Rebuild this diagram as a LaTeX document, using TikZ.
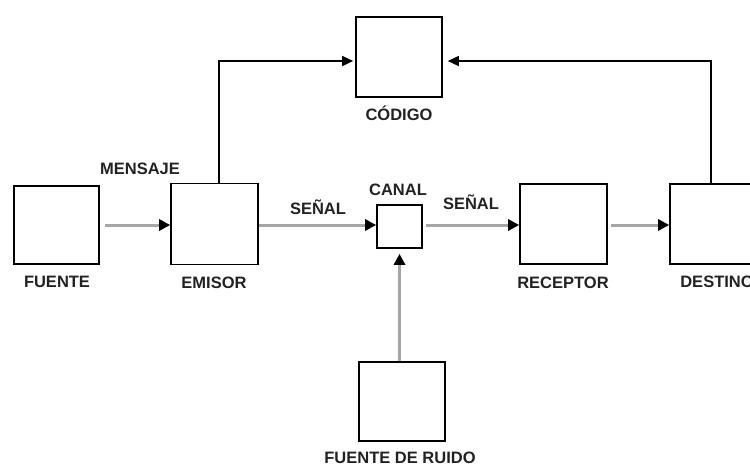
\documentclass[tikz,border=0pt]{standalone}
\usepackage{fontspec}
\setmainfont{Liberation Sans}
\usetikzlibrary{arrows.meta}
\definecolor{grayline}{HTML}{A6A6A6}
\definecolor{txt}{HTML}{222222}
\begin{document}
\begin{tikzpicture}[x=1pt,y=-1pt,
  box/.style={draw=black,line width=1.6pt,fill=white,inner sep=0pt},
  lbl/.style={text=txt,font=\fontsize{16.5}{18}\selectfont\bfseries,inner sep=0pt,anchor=center},
  sig/.style={draw=grayline,line width=3pt,-{Triangle[length=11pt,width=11pt,color=black]}},
  ctl/.style={draw=black,line width=1.4pt,-{Triangle[length=11pt,width=10pt,color=black]}}]
\useasboundingbox (0,0) rectangle (750,466);
\clip (0,0) rectangle (750,466);
% boxes
\node[box,minimum width=85pt,minimum height=78pt] (fuente) at (56.5,225) {};
\node[box,minimum width=87pt,minimum height=81pt] (emisor) at (214.5,224) {};
\node[box,minimum width=45pt,minimum height=43pt] (canal) at (399.5,226.5) {};
\node[box,minimum width=87pt,minimum height=80pt] (receptor) at (563.5,224) {};
\node[box,minimum width=87pt,minimum height=80pt] (destino) at (713.5,224) {};
\node[box,minimum width=86pt,minimum height=80pt] (codigo) at (399,57) {};
\node[box,minimum width=86pt,minimum height=79pt] (ruido) at (402,401.5) {};
% labels
\node[lbl] (lmensaje) at (140,169) {MENSAJE};
\node[lbl] (lfuente) at (57,282) {FUENTE};
\node[lbl] (lemisor) at (214,283) {EMISOR};
\node[lbl] (lsenal1) at (318,207) {SEÑAL};
\node[lbl] (lcanal) at (398,190) {CANAL};
\node[lbl] (lsenal2) at (471,202) {SEÑAL};
\node[lbl] (lreceptor) at (563,283) {RECEPTOR};
\node[lbl] (ldestino) at (717,282) {DESTINO};
\node[lbl] (lcodigo) at (399,113) {CÓDIGO};
\node[lbl] (lruido) at (400,458) {FUENTE DE RUIDO};
% signal connectors
\draw[sig,shorten <=5pt] (fuente.east) -- (emisor.west |- fuente.east);
\draw[sig] (emisor.east |- fuente.east) -- (canal.west |- fuente.east);
\draw[sig,shorten <=3pt] (canal.east |- fuente.east) -- (receptor.west |- fuente.east);
\draw[sig,shorten <=3pt] (receptor.east |- fuente.east) -- (destino.west |- fuente.east);
\draw[sig,shorten >=5pt] (canal.south |- ruido.north) -- (canal.south);
% control connectors
\coordinate (cin) at ([yshift=-4pt]codigo.west);
\coordinate (cout) at ([yshift=-4pt]codigo.east);
\draw[ctl,shorten >=2pt] ([xshift=4.5pt]emisor.north) |- (cin);
\draw[ctl,shorten >=5pt] ([xshift=-2.5pt]destino.north) |- (cout);
\end{tikzpicture}
\end{document}
